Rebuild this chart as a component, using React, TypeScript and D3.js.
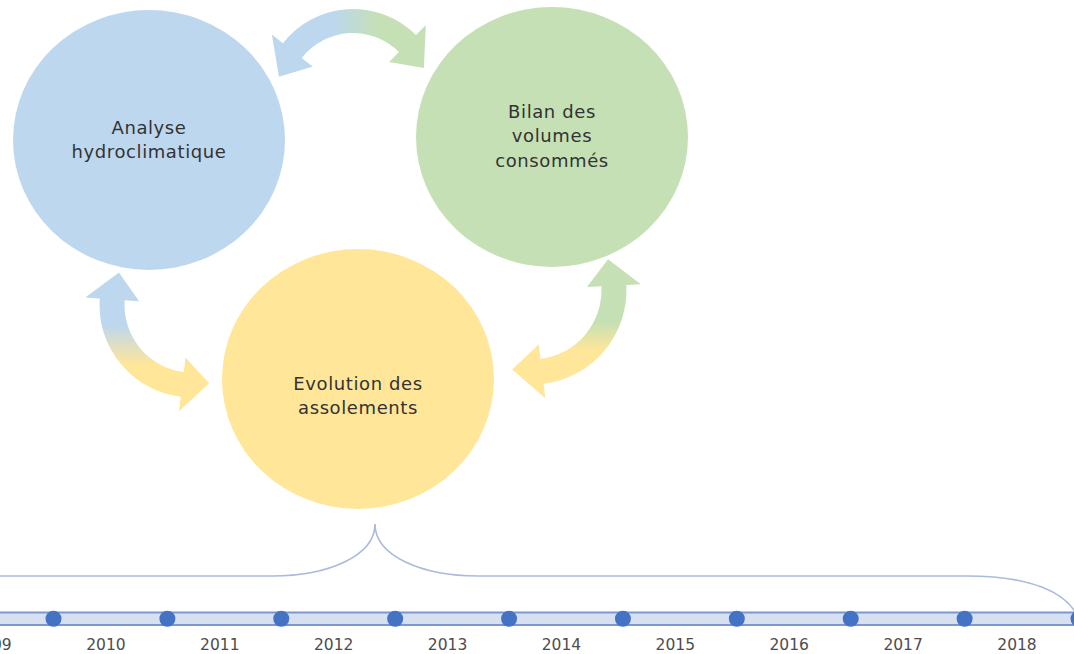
import React from "react";
import * as d3 from "d3";

const W = 1074;
const H = 654;

// texts of the three circles
const blueLabel = ["Analyse", "hydroclimatique"];
const greenLabel = ["Bilan des", "volumes", "consommés"];
const yellowLabel = ["Evolution des", "assolements"];

// timeline
const years = [2009, 2010, 2011, 2012, 2013, 2014, 2015, 2016, 2017, 2018];

const BLUE = "#bdd7ee";
const GREEN = "#c5e0b4";
const YELLOW = "#ffe699";
const TEXT = "#333";
const FONT = "'DejaVu Sans', Verdana, sans-serif";

const circles = [
  { label: blueLabel, cx: 149, cy: 140, ty: 141, fill: BLUE },
  { label: greenLabel, cx: 552, cy: 137, ty: 137, fill: GREEN },
  { label: yellowLabel, cx: 358, cy: 379, ty: 397, fill: YELLOW },
];

const rad = (a: number) => (a * Math.PI) / 180;

// curved double arrow along a circle, tips on radius r
function arcArrow(cx: number, cy: number, r: number, tipA: number, baseA: number, baseB: number, tipB: number, body = 12, head = 26) {
  const pt = (rr: number, a: number): [number, number] => [cx + rr * Math.cos(rad(a)), cy + rr * Math.sin(rad(a))];
  const ccw = baseB < baseA;
  const p = d3.path();
  p.moveTo(...pt(r - body, baseA));
  p.lineTo(...pt(r - head, baseA));
  p.lineTo(...pt(r, tipA));
  p.lineTo(...pt(r + head, baseA));
  p.lineTo(...pt(r + body, baseA));
  p.arc(cx, cy, r + body, rad(baseA), rad(baseB), ccw);
  p.lineTo(...pt(r + head, baseB));
  p.lineTo(...pt(r, tipB));
  p.lineTo(...pt(r - head, baseB));
  p.lineTo(...pt(r - body, baseB));
  p.arc(cx, cy, r - body, rad(baseB), rad(baseA), !ccw);
  p.closePath();
  return p.toString();
}

export default function App() {
  const x = d3.scaleLinear().domain([2009, 2018]).range([-8, 1017]);
  const dots = years.map((y) => y + 0.54);
  const bandY = 612.5;
  const bandH = 12.5;
  const dotY = bandY + bandH / 2;

  const brace = d3.path();
  brace.moveTo(0, 576);
  brace.lineTo(272, 576);
  brace.bezierCurveTo(328, 576, 375, 556, 375, 524);
  brace.bezierCurveTo(375, 556, 422, 576, 478, 576);
  brace.lineTo(966, 576);
  brace.bezierCurveTo(1030, 576, 1068, 592, x(dots[dots.length - 1]), dotY);

  const lineH = 24.5;

  return (
    <svg width={W} height={H} style={{ position: "absolute", left: 0, top: 0, background: "#fff" }}>
      <defs>
        <linearGradient id="gTop" gradientUnits="userSpaceOnUse" x1={332} y1={0} x2={380} y2={0}>
          <stop offset="0" stopColor={BLUE} />
          <stop offset="1" stopColor={GREEN} />
        </linearGradient>
        <linearGradient id="gLeft" gradientUnits="userSpaceOnUse" x1={0} y1={325} x2={0} y2={365}>
          <stop offset="0" stopColor={BLUE} />
          <stop offset="1" stopColor={YELLOW} />
        </linearGradient>
        <linearGradient id="gRight" gradientUnits="userSpaceOnUse" x1={0} y1={322} x2={0} y2={350}>
          <stop offset="0" stopColor={GREEN} />
          <stop offset="1" stopColor={YELLOW} />
        </linearGradient>
      </defs>

      {circles.map((c, i) => (
        <g key={i}>
          <ellipse cx={c.cx} cy={c.cy} rx={136} ry={130} fill={c.fill} />
          {c.label.map((t, j) => (
            <text
              key={j}
              x={c.cx}
              y={c.ty + (j - (c.label.length - 1) / 2) * lineH + 5}
              textAnchor="middle"
              fontFamily={FONT}
              fontSize={18}
              letterSpacing={0.6}
              fill={TEXT}
            >
              {t}
            </text>
          ))}
        </g>
      ))}

      <path d={arcArrow(353, 98, 77, -164, -142, -45, -23)} fill="url(#gTop)" />
      <path d={arcArrow(192, 305, 80, 204, 184, 97, 77.6, 12.5, 27)} fill="url(#gLeft)" />
      <path d={arcArrow(532, 290, 82, -22, -3, 83, 104, 12.5, 27)} fill="url(#gRight)" />

      <path d={brace.toString()} fill="none" stroke="#a9bbdb" strokeWidth={1.6} />

      <rect x={0} y={bandY} width={W} height={bandH} fill="#d7e0f1" />
      <line x1={0} x2={W} y1={bandY} y2={bandY} stroke="#7f98cc" strokeWidth={2} />
      <line x1={0} x2={W} y1={bandY + bandH} y2={bandY + bandH} stroke="#7f98cc" strokeWidth={2} />
      {dots.map((d, i) => (
        <circle key={i} cx={x(d)} cy={dotY} r={8} fill="#4472c4" />
      ))}
      {years.map((y) => (
        <text key={y} x={x(y)} y={650} textAnchor="middle" fontFamily={FONT} fontSize={15.5} fill="#4d4d4d">
          {y}
        </text>
      ))}
    </svg>
  );
}
